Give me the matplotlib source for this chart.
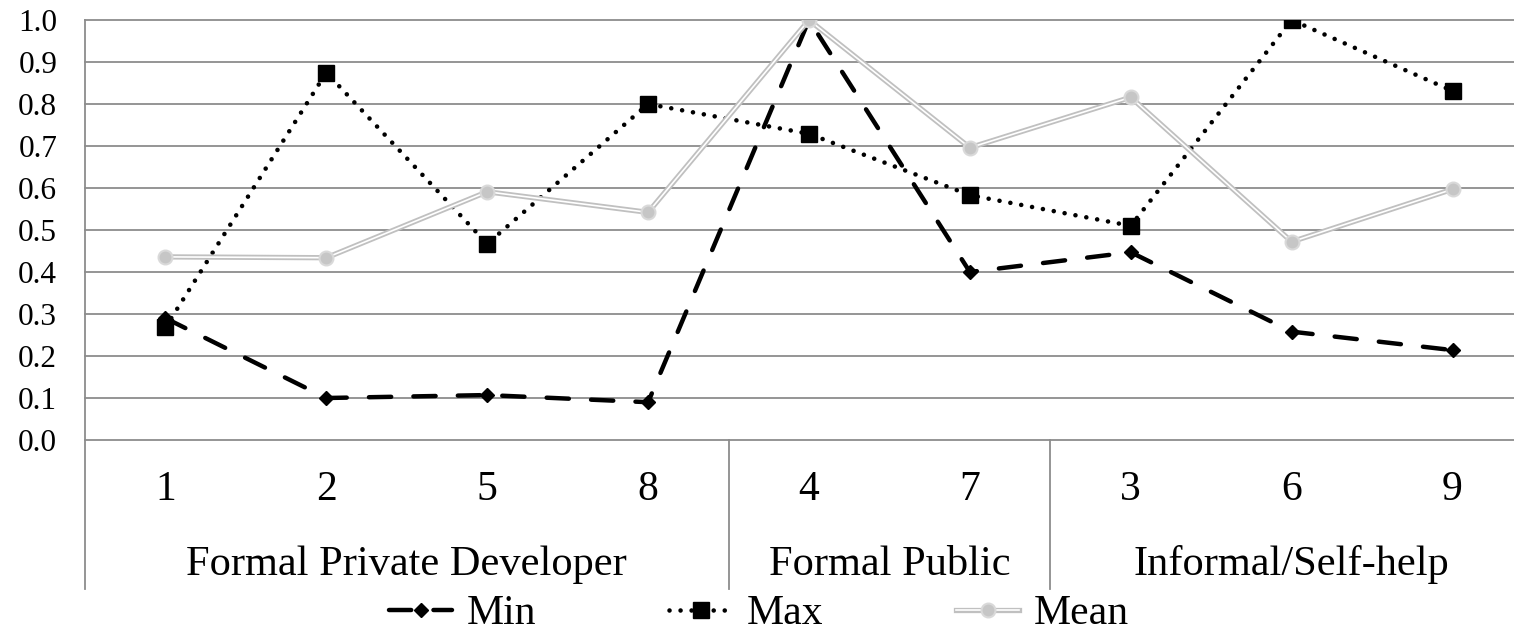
import matplotlib
matplotlib.use('Agg')
import matplotlib.pyplot as plt
import numpy as np

plt.rcParams['font.family'] = ['Liberation Serif', 'DejaVu Serif']

# ── data ─────────────────────────
categories = ["1", "2", "5", "8", "4", "7", "3", "6", "9"]
groups = ["Formal Private Developer", "Formal Public", "Informal/Self-help"]
group_sizes = [4, 2, 3]

min_vals  = [0.29, 0.10, 0.107, 0.09, 1.00, 0.40, 0.447, 0.258, 0.214]
max_vals  = [0.268, 0.875, 0.467, 0.80, 0.729, 0.583, 0.51, 1.00, 0.831]
mean_vals = [0.436, 0.434, 0.591, 0.542, 1.00, 0.696, 0.816, 0.472, 0.597]

x = np.arange(len(categories))

fig = plt.figure(figsize=(15.14, 6.37), dpi=100)
# plot area runs a bit past the right edge of the picture (cropped original)
ax = fig.add_axes([85/1514, 197/637, 1448/1514, 420/637])

grid_c = '#8c8c8c'
ax.set_xlim(-0.5, 8.5)
ax.set_ylim(0, 1.0)
ax.set_yticks(np.arange(0, 1.01, 0.1))
ax.set_yticklabels([f'{v:.1f}' for v in np.arange(0, 1.01, 0.1)], fontsize=22.5)
ax.tick_params(axis='y', length=0, pad=20)
ax.set_xticks([])
for y in np.arange(0, 1.01, 0.1):
    ax.axhline(y, color=grid_c, lw=1.3, zorder=0, clip_on=False)
for s in ['top', 'right', 'bottom', 'left']:
    ax.spines[s].set_visible(False)

# series
l_max, = ax.plot(x, max_vals, color='black', lw=3.3, dashes=(0.01, 2.4),
                 dash_capstyle='round', marker='s', ms=11, zorder=3)
l_min, = ax.plot(x, min_vals, color='black', lw=3.2, dashes=(5, 5),
                 dash_capstyle='round', marker='D', ms=7.5, zorder=4)
m_outer, = ax.plot(x, mean_vals, color='#c0c0c0', lw=3.8, zorder=5)
m_inner, = ax.plot(x, mean_vals, color='white', lw=1.2, zorder=6)
m_mark, = ax.plot(x, mean_vals, ls='none', marker='o', ms=10,
                  mfc='#c6c6c6', mec='#d9d9d9', mew=1.5, zorder=7)

# multi-level category axis
xt = ax.get_xaxis_transform()
for xi, lab in zip(x, categories):
    ax.text(xi, -50/420, lab, transform=xt, ha='center', va='center', fontsize=30)

bottom = -149/420
ax.plot([-0.5, -0.5], [bottom, 1.0], transform=xt, color=grid_c, lw=1.3, clip_on=False)
start = 0
for i, (g, n) in enumerate(zip(groups, group_sizes)):
    center = start + (n - 1) / 2
    ax.text(center, -125/420, g, transform=xt, ha='center', va='center', fontsize=30.5)
    start += n
    if i < len(groups) - 1:
        ax.plot([start - 0.5, start - 0.5], [0, bottom], transform=xt,
                color=grid_c, lw=1.3, clip_on=False)

fig.legend([l_min, l_max, (m_outer, m_inner, m_mark)], ['Min', 'Max', 'Mean'],
           loc='center', bbox_to_anchor=(759/1514, 1 - 614/637), ncol=3,
           frameon=False, fontsize=30, handlelength=1.5, handletextpad=0.35,
           columnspacing=3.2, borderpad=0, borderaxespad=0)

fig.savefig('out.png', dpi=100, facecolor='white')
